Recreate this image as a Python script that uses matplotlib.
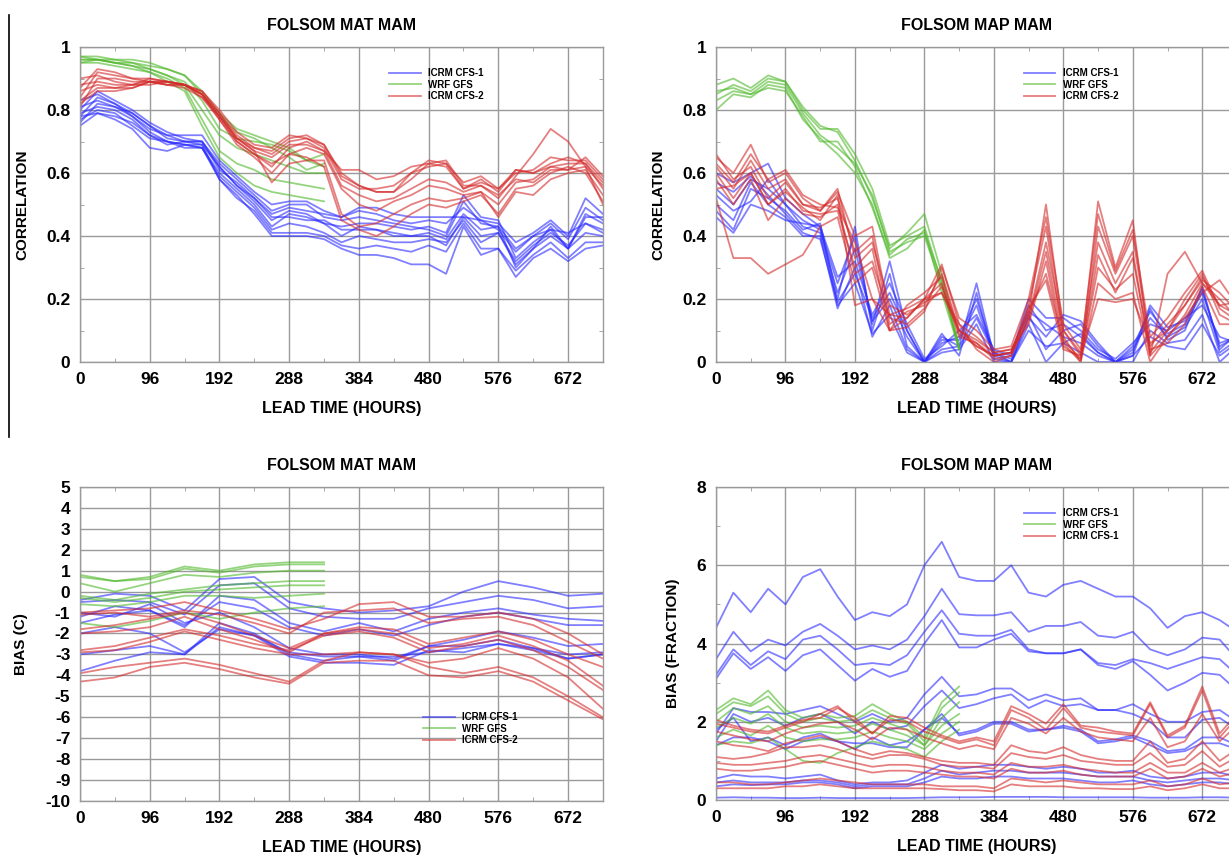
import matplotlib.pyplot as plt
from matplotlib.lines import Line2D
from matplotlib.ticker import MultipleLocator, FormatStrFormatter
import numpy as np

plt.rcParams['font.family'] = ['Liberation Sans', 'DejaVu Sans']

# lead times (hours)
hours_24 = np.arange(0, 721, 24)
hours_48 = np.arange(0, 721, 48)
wrf_24 = np.arange(0, 337, 24)
wrf_48 = np.arange(0, 337, 48)

# ---- MAT correlation ----
mat_corr_cfs1 = [
    [0.80,0.86,0.83,0.80,0.76,0.73,0.71,0.70,0.63,0.58,0.53,0.48,0.50,0.50,0.46,0.45,0.46,0.45,0.44,0.43,0.42,0.40,0.51,0.44,0.43,0.36,0.40,0.44,0.39,0.49,0.45],
    [0.78,0.84,0.82,0.79,0.75,0.72,0.70,0.69,0.62,0.56,0.51,0.45,0.48,0.47,0.44,0.43,0.44,0.44,0.43,0.42,0.43,0.41,0.53,0.46,0.45,0.33,0.38,0.42,0.36,0.47,0.44],
    [0.76,0.82,0.81,0.78,0.73,0.70,0.69,0.68,0.60,0.55,0.50,0.43,0.47,0.46,0.44,0.40,0.43,0.42,0.41,0.40,0.41,0.39,0.47,0.42,0.43,0.30,0.36,0.43,0.36,0.46,0.46],
    [0.79,0.81,0.80,0.77,0.72,0.69,0.70,0.70,0.61,0.57,0.52,0.47,0.49,0.48,0.47,0.46,0.49,0.49,0.47,0.46,0.46,0.46,0.46,0.45,0.42,0.35,0.40,0.42,0.41,0.44,0.41],
    [0.83,0.85,0.82,0.78,0.74,0.72,0.72,0.72,0.64,0.59,0.54,0.50,0.51,0.51,0.48,0.46,0.48,0.47,0.45,0.44,0.45,0.44,0.49,0.45,0.44,0.38,0.41,0.45,0.40,0.52,0.47],
    [0.75,0.79,0.78,0.76,0.72,0.70,0.68,0.68,0.59,0.54,0.49,0.42,0.44,0.43,0.41,0.38,0.40,0.39,0.38,0.38,0.39,0.38,0.45,0.38,0.41,0.31,0.36,0.40,0.36,0.41,0.40],
    [0.77,0.80,0.79,0.75,0.71,0.70,0.69,0.68,0.58,0.52,0.48,0.41,0.41,0.41,0.40,0.37,0.36,0.37,0.36,0.35,0.37,0.35,0.44,0.36,0.36,0.29,0.34,0.38,0.33,0.38,0.38],
    [0.78,0.79,0.77,0.74,0.68,0.67,0.69,0.69,0.58,0.53,0.47,0.40,0.40,0.40,0.39,0.36,0.34,0.34,0.33,0.31,0.31,0.28,0.43,0.34,0.36,0.27,0.33,0.36,0.32,0.36,0.37],
    [0.81,0.83,0.81,0.79,0.75,0.71,0.70,0.70,0.62,0.56,0.52,0.46,0.46,0.45,0.45,0.42,0.42,0.42,0.40,0.40,0.40,0.37,0.46,0.40,0.41,0.32,0.37,0.41,0.37,0.44,0.42],
]
mat_corr_wrf = [
    [0.97,0.97,0.96,0.96,0.95,0.93,0.91,0.85,0.78,0.73,0.71,0.68,0.65,0.61,0.63],
    [0.96,0.96,0.96,0.95,0.94,0.93,0.91,0.86,0.79,0.74,0.72,0.70,0.68,0.64,0.66],
    [0.96,0.96,0.95,0.95,0.93,0.91,0.88,0.80,0.72,0.68,0.66,0.64,0.62,0.60,0.60],
    [0.95,0.96,0.95,0.94,0.92,0.90,0.87,0.77,0.67,0.63,0.61,0.58,0.57,0.56,0.55],
    [0.95,0.95,0.94,0.93,0.92,0.89,0.86,0.75,0.65,0.60,0.56,0.54,0.53,0.52,0.51],
    [0.97,0.96,0.95,0.94,0.93,0.91,0.89,0.83,0.74,0.71,0.70,0.69,0.67,0.64,0.62],
]
mat_corr_cfs2 = [
    [0.81,0.90,0.90,0.89,0.89,0.89,0.88,0.85,0.78,0.71,0.68,0.67,0.71,0.72,0.69,0.60,0.56,0.54,0.54,0.58,0.63,0.62,0.55,0.58,0.54,0.61,0.60,0.62,0.63,0.63,0.55],
    [0.84,0.92,0.91,0.90,0.90,0.89,0.88,0.86,0.79,0.72,0.68,0.66,0.70,0.71,0.68,0.58,0.55,0.55,0.56,0.60,0.64,0.63,0.57,0.59,0.55,0.60,0.61,0.65,0.64,0.64,0.58],
    [0.87,0.93,0.92,0.90,0.89,0.88,0.88,0.84,0.78,0.70,0.66,0.62,0.68,0.70,0.67,0.61,0.61,0.58,0.59,0.62,0.63,0.64,0.56,0.56,0.52,0.59,0.66,0.74,0.70,0.62,0.56],
    [0.90,0.91,0.89,0.88,0.90,0.89,0.88,0.85,0.77,0.69,0.65,0.60,0.66,0.68,0.66,0.55,0.50,0.48,0.51,0.53,0.56,0.55,0.53,0.54,0.50,0.57,0.58,0.62,0.61,0.65,0.59],
    [0.88,0.89,0.88,0.88,0.88,0.89,0.88,0.85,0.79,0.71,0.67,0.57,0.63,0.64,0.64,0.47,0.43,0.44,0.47,0.50,0.52,0.51,0.52,0.54,0.46,0.54,0.53,0.58,0.60,0.61,0.53],
    [0.86,0.88,0.87,0.87,0.89,0.88,0.87,0.84,0.77,0.70,0.66,0.63,0.66,0.65,0.62,0.45,0.42,0.40,0.43,0.47,0.50,0.49,0.51,0.53,0.47,0.55,0.56,0.60,0.62,0.60,0.51],
    [0.83,0.87,0.87,0.88,0.89,0.89,0.88,0.86,0.80,0.73,0.69,0.68,0.72,0.71,0.69,0.59,0.56,0.54,0.54,0.60,0.62,0.63,0.55,0.57,0.55,0.61,0.60,0.63,0.65,0.63,0.57],
    [0.82,0.86,0.86,0.87,0.89,0.88,0.88,0.85,0.78,0.71,0.67,0.65,0.69,0.69,0.67,0.56,0.53,0.51,0.52,0.55,0.58,0.57,0.54,0.56,0.53,0.58,0.57,0.61,0.61,0.62,0.50],
]

# ---- MAP correlation ----
map_corr_cfs1 = [
    [0.55,0.50,0.58,0.55,0.50,0.45,0.42,0.25,0.40,0.12,0.32,0.10,0.00,0.06,0.08,0.20,0.03,0.01,0.18,0.10,0.12,0.08,0.03,0.00,0.05,0.16,0.09,0.12,0.22,0.06,0.08],
    [0.48,0.42,0.55,0.52,0.48,0.42,0.44,0.20,0.43,0.10,0.28,0.05,0.00,0.08,0.05,0.25,0.02,0.00,0.15,0.04,0.10,0.12,0.05,0.00,0.02,0.17,0.07,0.10,0.24,0.04,0.09],
    [0.60,0.57,0.60,0.63,0.52,0.47,0.43,0.27,0.32,0.15,0.25,0.12,0.01,0.05,0.10,0.15,0.04,0.02,0.20,0.14,0.14,0.10,0.04,0.01,0.06,0.12,0.10,0.14,0.18,0.08,0.06],
    [0.50,0.45,0.57,0.50,0.46,0.40,0.40,0.17,0.30,0.08,0.18,0.04,0.00,0.03,0.04,0.12,0.00,0.00,0.12,0.00,0.06,0.03,0.00,0.00,0.00,0.10,0.06,0.07,0.15,0.00,0.05],
    [0.53,0.48,0.51,0.58,0.50,0.43,0.41,0.22,0.36,0.13,0.20,0.08,0.00,0.07,0.07,0.18,0.02,0.03,0.16,0.12,0.08,0.06,0.02,0.00,0.04,0.14,0.08,0.11,0.20,0.03,0.07],
    [0.57,0.54,0.59,0.53,0.47,0.41,0.39,0.19,0.28,0.14,0.22,0.10,0.00,0.09,0.02,0.22,0.01,0.00,0.14,0.08,0.15,0.13,0.06,0.00,0.03,0.18,0.11,0.13,0.23,0.05,0.08],
    [0.46,0.41,0.50,0.48,0.45,0.44,0.43,0.18,0.25,0.09,0.15,0.03,0.00,0.04,0.05,0.14,0.03,0.00,0.10,0.05,0.06,0.09,0.03,0.00,0.02,0.08,0.05,0.04,0.12,0.02,0.06],
]
map_corr_wrf = [
    [0.85,0.88,0.86,0.90,0.89,0.80,0.74,0.74,0.66,0.55,0.37,0.40,0.43,0.25,0.04],
    [0.83,0.86,0.85,0.89,0.88,0.79,0.72,0.68,0.63,0.53,0.35,0.38,0.40,0.24,0.05],
    [0.80,0.85,0.84,0.88,0.87,0.77,0.71,0.66,0.60,0.50,0.33,0.36,0.42,0.22,0.04],
    [0.88,0.90,0.87,0.91,0.89,0.81,0.75,0.73,0.64,0.52,0.36,0.41,0.47,0.28,0.05],
    [0.86,0.87,0.85,0.87,0.86,0.78,0.70,0.70,0.62,0.49,0.34,0.39,0.41,0.26,0.04],
]
map_corr_cfs2 = [
    [0.65,0.60,0.69,0.57,0.60,0.52,0.48,0.54,0.40,0.43,0.15,0.14,0.20,0.31,0.12,0.08,0.03,0.04,0.15,0.50,0.10,0.02,0.51,0.30,0.45,0.03,0.10,0.20,0.28,0.15,0.12],
    [0.62,0.55,0.64,0.55,0.58,0.50,0.49,0.52,0.35,0.40,0.12,0.16,0.18,0.28,0.10,0.05,0.02,0.03,0.18,0.43,0.08,0.00,0.43,0.28,0.40,0.05,0.12,0.18,0.27,0.18,0.15],
    [0.60,0.52,0.60,0.50,0.55,0.48,0.47,0.48,0.30,0.36,0.10,0.14,0.20,0.25,0.08,0.06,0.01,0.02,0.14,0.38,0.10,0.03,0.38,0.25,0.35,0.02,0.08,0.15,0.25,0.20,0.14],
    [0.58,0.50,0.58,0.45,0.52,0.47,0.46,0.50,0.28,0.32,0.14,0.12,0.17,0.24,0.10,0.07,0.03,0.04,0.12,0.32,0.05,0.01,0.34,0.22,0.33,0.04,0.06,0.12,0.24,0.12,0.12],
    [0.66,0.58,0.62,0.52,0.57,0.50,0.48,0.55,0.33,0.38,0.18,0.15,0.19,0.22,0.12,0.04,0.00,0.02,0.16,0.28,0.06,0.00,0.25,0.20,0.22,0.00,0.08,0.14,0.22,0.26,0.18],
    [0.52,0.33,0.33,0.28,0.31,0.34,0.43,0.46,0.25,0.30,0.10,0.18,0.22,0.27,0.09,0.05,0.02,0.03,0.17,0.26,0.04,0.02,0.20,0.19,0.20,0.06,0.10,0.18,0.26,0.22,0.16],
    [0.63,0.57,0.66,0.58,0.61,0.53,0.50,0.49,0.38,0.20,0.10,0.11,0.16,0.30,0.14,0.10,0.04,0.05,0.20,0.46,0.12,0.04,0.47,0.29,0.42,0.08,0.14,0.22,0.29,0.17,0.13],
    [0.55,0.56,0.60,0.50,0.54,0.49,0.45,0.53,0.18,0.20,0.15,0.17,0.20,0.22,0.10,0.06,0.02,0.03,0.13,0.35,0.07,0.01,0.30,0.23,0.28,0.02,0.28,0.35,0.25,0.18,0.19],
]

# ---- MAT bias (48 h steps) ----
mat_bias_cfs1 = [
    [-0.4,-0.1,-0.2,-0.9,0.6,0.7,-0.5,-0.8,-1.0,-0.9,-0.7,0.0,0.5,0.2,-0.2,-0.1],
    [-0.5,-0.4,-0.5,-1.1,0.3,0.4,-0.8,-1.2,-1.3,-1.3,-0.8,-0.5,-0.2,-0.4,-0.8,-0.7],
    [-1.2,-0.7,-0.9,-1.7,-0.2,-0.4,-1.5,-1.9,-1.5,-1.9,-1.3,-1.0,-0.8,-1.1,-1.3,-1.4],
    [-1.5,-1.1,-0.9,-1.6,-0.5,-0.8,-1.7,-2.1,-1.8,-2.1,-1.6,-1.2,-1.0,-1.3,-1.6,-1.6],
    [-1.0,-1.2,-0.6,-1.5,-1.0,-1.7,-2.7,-3.0,-3.0,-3.2,-2.6,-2.3,-1.9,-2.2,-2.6,-2.5],
    [-2.0,-1.7,-2.0,-2.9,-1.8,-2.1,-2.9,-3.1,-3.1,-3.3,-2.6,-2.6,-2.3,-2.7,-3.0,-2.9],
    [-3.0,-2.8,-2.6,-3.0,-1.5,-2.0,-3.0,-3.3,-3.1,-3.1,-2.9,-2.7,-2.5,-2.7,-3.2,-3.0],
    [-3.8,-3.3,-2.9,-3.0,-1.7,-2.1,-3.1,-3.4,-3.4,-3.5,-2.8,-2.9,-2.5,-2.8,-3.2,-3.0],
]
mat_bias_wrf = [
    [0.8,0.5,0.7,1.2,1.0,1.3,1.4,1.4],
    [0.7,0.5,0.6,1.1,0.9,1.2,1.3,1.3],
    [0.4,0.0,0.4,0.8,0.7,0.9,1.0,1.0],
    [-0.2,-0.4,-0.1,0.1,0.3,0.4,0.5,0.5],
    [-0.3,-0.5,-0.3,0.0,0.1,0.2,0.3,0.3],
    [-0.6,-0.7,-0.5,-0.2,-0.2,-0.3,-0.2,-0.1],
    [-1.5,-1.7,-1.4,-1.0,-1.3,-1.0,-0.8,-0.7],
]
mat_bias_cfs2 = [
    [-1.0,-0.9,-0.8,-0.5,-0.9,-1.3,-1.8,-1.3,-0.6,-0.5,-1.2,-1.2,-1.0,-1.3,-2.0,-3.0],
    [-1.1,-1.0,-1.2,-0.9,-1.1,-1.5,-2.0,-1.0,-0.9,-0.8,-1.5,-1.3,-1.2,-1.6,-2.4,-3.2],
    [-1.8,-1.6,-1.3,-1.0,-1.5,-2.1,-2.7,-2.0,-1.7,-1.8,-2.5,-2.2,-1.9,-2.3,-3.0,-3.6],
    [-2.0,-1.9,-1.7,-1.2,-1.8,-2.3,-2.9,-2.0,-1.8,-2.0,-2.7,-2.5,-2.1,-2.6,-3.3,-4.5],
    [-2.8,-2.6,-2.2,-1.8,-2.1,-2.5,-2.8,-2.1,-1.9,-2.2,-2.9,-2.6,-2.3,-2.8,-3.6,-4.7],
    [-2.9,-2.8,-2.4,-1.9,-2.3,-2.7,-3.0,-3.0,-2.9,-3.0,-3.4,-3.2,-2.7,-3.2,-4.1,-5.6],
    [-3.9,-3.6,-3.4,-3.2,-3.5,-3.9,-4.3,-3.3,-2.9,-3.0,-3.6,-3.9,-3.6,-4.1,-5.0,-6.0],
    [-4.3,-4.1,-3.6,-3.4,-3.7,-4.1,-4.4,-3.4,-3.3,-3.3,-4.0,-4.1,-3.8,-4.3,-5.2,-6.1],
]

# ---- MAP bias (fraction) ----
map_bias_cfs1 = [
    [4.4,5.3,4.8,5.4,5.0,5.7,5.9,5.2,4.6,4.8,4.7,5.0,6.0,6.6,5.7,5.6,5.6,6.0,5.3,5.2,5.5,5.6,5.4,5.2,5.2,4.9,4.4,4.7,4.8,4.6,4.3],
    [3.6,4.3,3.8,4.1,3.95,4.3,4.5,4.2,3.85,3.95,3.85,4.1,4.7,5.4,4.75,4.72,4.72,4.8,4.3,4.45,4.45,4.55,4.2,4.15,4.3,3.85,3.7,3.85,4.15,4.1,3.6],
    [3.2,3.85,3.45,3.8,3.6,4.1,4.2,3.85,3.45,3.5,3.45,3.7,4.3,4.85,4.25,4.2,4.2,4.35,3.85,3.75,3.75,3.85,3.5,3.45,3.6,3.5,3.35,3.5,3.65,3.6,3.2],
    [3.1,3.75,3.35,3.65,3.3,3.7,3.85,3.45,3.05,3.35,3.15,3.3,4.0,4.6,3.9,3.9,4.1,4.25,3.8,3.75,3.75,3.85,3.45,3.35,3.55,3.2,2.8,3.0,3.25,3.2,2.8],
    [1.7,2.35,2.25,2.25,2.2,2.3,2.4,2.2,2.0,2.2,2.0,2.1,2.7,3.15,2.65,2.7,2.85,2.85,2.55,2.7,2.55,2.6,2.3,2.3,2.45,2.2,2.0,2.0,2.25,2.3,2.0],
    [1.5,2.2,2.0,2.1,1.9,2.1,2.2,2.0,1.7,2.0,1.8,1.9,2.4,2.8,2.35,2.45,2.6,2.7,2.35,2.55,2.4,2.45,2.3,2.3,2.2,2.0,1.6,1.6,2.05,2.1,1.8],
    [1.4,1.6,1.6,1.5,1.3,1.5,1.6,1.5,1.3,1.6,1.4,1.5,1.8,2.1,1.7,1.8,2.0,2.0,1.8,1.8,1.9,1.8,1.5,1.55,1.65,1.5,1.25,1.3,1.6,1.6,1.4],
    [1.8,2.1,1.5,1.6,1.4,1.6,1.7,1.5,1.45,1.45,1.35,1.35,1.8,2.2,1.65,1.75,1.95,1.95,1.75,1.8,1.85,1.75,1.45,1.5,1.6,1.4,1.2,1.25,1.45,1.45,1.3],
    [0.55,0.65,0.6,0.6,0.55,0.6,0.65,0.5,0.4,0.45,0.45,0.5,0.7,0.9,0.8,0.85,0.9,0.9,0.85,0.8,0.85,0.8,0.7,0.7,0.75,0.6,0.55,0.6,0.7,0.7,0.6],
    [0.45,0.5,0.45,0.45,0.45,0.5,0.5,0.45,0.35,0.4,0.4,0.4,0.55,0.75,0.65,0.7,0.75,0.75,0.7,0.7,0.7,0.65,0.6,0.6,0.6,0.5,0.45,0.5,0.55,0.55,0.5],
    [0.35,0.4,0.38,0.4,0.4,0.45,0.45,0.4,0.3,0.35,0.35,0.35,0.45,0.6,0.55,0.55,0.6,0.6,0.55,0.55,0.55,0.5,0.45,0.45,0.5,0.4,0.35,0.4,0.45,0.45,0.4],
    [0.06,0.07,0.06,0.06,0.05,0.05,0.06,0.05,0.05,0.05,0.05,0.05,0.06,0.07,0.07,0.07,0.08,0.08,0.08,0.08,0.07,0.07,0.07,0.07,0.07,0.06,0.06,0.06,0.07,0.07,0.06],
]
map_bias_wrf = [
    [2.3,2.6,2.45,2.8,2.3,2.1,2.2,2.1,2.15,2.45,2.2,2.0,1.6,2.5,2.9],
    [2.2,2.5,2.4,2.65,2.2,2.0,2.1,2.0,2.05,2.3,2.1,1.95,1.5,2.35,2.75],
    [2.0,2.35,2.2,2.4,2.0,1.85,1.9,1.85,1.9,2.1,1.95,1.8,1.4,2.1,2.5],
    [1.85,2.1,1.95,2.2,1.85,1.7,1.75,1.7,1.75,1.95,1.8,1.65,1.4,1.9,2.2],
    [1.6,1.8,1.65,1.9,1.6,1.5,1.55,1.55,1.6,1.75,1.6,1.5,1.3,1.7,2.0],
    [1.4,1.5,1.45,1.6,1.3,1.0,0.95,1.2,1.35,1.5,1.4,1.3,1.1,1.5,1.8],
]
map_bias_cfs2 = [
    [2.05,1.9,1.8,1.75,1.9,2.05,2.1,2.35,2.1,1.7,2.15,2.1,1.85,1.65,1.5,1.6,1.5,2.4,2.2,1.95,2.45,1.9,1.85,1.75,1.7,2.5,1.65,1.9,2.9,1.7,2.2],
    [1.95,1.85,1.75,1.7,1.85,2.0,2.2,2.4,2.0,1.7,2.05,2.0,1.75,1.6,1.45,1.55,1.4,2.3,2.1,1.8,2.35,1.85,1.75,1.7,1.65,2.45,1.6,1.85,2.8,1.6,2.1],
    [1.75,1.65,1.55,1.5,1.7,1.85,1.95,2.0,1.8,1.55,1.85,1.8,1.6,1.45,1.3,1.4,1.3,2.1,1.95,1.7,2.1,1.75,1.6,1.55,1.5,2.1,1.35,1.5,2.2,1.5,1.9],
    [1.5,1.4,1.35,1.25,1.45,1.55,1.65,1.5,1.3,1.15,1.25,1.2,1.1,1.0,0.95,0.95,0.9,1.4,1.25,1.2,1.35,1.15,1.05,1.0,1.0,1.5,0.95,1.05,1.5,1.0,1.3],
    [1.1,1.05,1.1,1.2,1.35,1.35,1.4,1.3,1.15,1.05,1.15,1.15,1.05,0.9,0.85,0.85,0.8,1.2,1.1,1.05,1.15,1.0,0.95,0.9,0.9,1.2,0.85,0.9,1.25,0.85,1.1],
    [0.95,0.9,0.9,0.95,1.0,1.1,1.15,1.05,0.95,0.85,0.9,0.9,0.85,0.75,0.7,0.7,0.65,0.95,0.85,0.85,0.9,0.8,0.75,0.7,0.7,0.95,0.7,0.7,0.95,0.7,0.85],
    [0.8,0.75,0.75,0.8,0.85,0.95,1.0,0.9,0.8,0.7,0.75,0.75,0.7,0.65,0.6,0.6,0.55,0.8,0.7,0.7,0.75,0.65,0.6,0.6,0.6,0.8,0.55,0.6,0.8,0.6,0.7],
    [0.45,0.45,0.4,0.4,0.45,0.5,0.55,0.5,0.45,0.4,0.4,0.4,0.4,0.35,0.35,0.35,0.3,0.55,0.5,0.45,0.5,0.45,0.4,0.4,0.4,0.5,0.35,0.4,0.55,0.4,0.45],
    [0.3,0.3,0.3,0.3,0.35,0.35,0.4,0.35,0.3,0.3,0.3,0.3,0.3,0.28,0.25,0.25,0.22,0.4,0.35,0.35,0.35,0.3,0.3,0.28,0.28,0.35,0.25,0.3,0.4,0.3,0.3],
]

blue = '#2a2aff'
green = '#4fb82a'
red = '#d42a2a'
grid_col = '#9a9a9a'


def draw_panel(ax, t_main, t_wrf, cfs1, wrf, cfs2, ylim, ymajor, yminor, ylabel, title, labels, legend_pos):
    ax.set_xlim(0, 720)
    ax.set_ylim(*ylim)
    ax.xaxis.set_major_locator(MultipleLocator(96))
    ax.xaxis.set_minor_locator(MultipleLocator(48))
    ax.yaxis.set_major_locator(MultipleLocator(ymajor))
    ax.yaxis.set_major_formatter(FormatStrFormatter('%g'))
    if yminor:
        ax.yaxis.set_minor_locator(MultipleLocator(yminor))
    ax.grid(True, which='major', color=grid_col, lw=1.0)
    ax.set_axisbelow(True)
    for s in ax.spines.values():
        s.set_color(grid_col)
        s.set_linewidth(1.0)
    ax.tick_params(which='both', direction='in', top=True, right=True, color=grid_col)
    ax.tick_params(which='major', length=0, labelsize=12.5, pad=7)
    ax.tick_params(which='minor', length=3)
    for lab in ax.get_xticklabels() + ax.get_yticklabels():
        lab.set_fontweight('bold')

    for y in cfs1:
        ax.plot(t_main, y, color=blue, lw=1.3, alpha=0.6)
    for y in wrf:
        ax.plot(t_wrf, y, color=green, lw=1.3, alpha=0.6)
    for y in cfs2:
        ax.plot(t_main, y, color=red, lw=1.3, alpha=0.6)

    ax.set_title(title, fontsize=11.5, fontweight='bold', pad=12)
    ax.set_xlabel('LEAD TIME (HOURS)', fontsize=11.5, fontweight='bold', labelpad=10)
    ax.set_ylabel(ylabel, fontsize=11, fontweight='bold', labelpad=12)

    handles = [Line2D([], [], color=c, lw=1.3, alpha=0.6) for c in (blue, green, red)]
    ax.legend(handles, labels, loc='upper left', bbox_to_anchor=legend_pos,
              frameon=False, prop={'size': 7, 'weight': 'bold'},
              handlelength=3.2, handletextpad=0.8, labelspacing=0.15)


fig = plt.figure(figsize=(12.29, 8.55), dpi=100)

ax1 = fig.add_axes([0.0651, 0.5766, 0.4255, 0.3684])
ax2 = fig.add_axes([0.5826, 0.5766, 0.4239, 0.3684])
ax3 = fig.add_axes([0.0651, 0.0632, 0.4255, 0.3673])
ax4 = fig.add_axes([0.5826, 0.0643, 0.4239, 0.3661])

draw_panel(ax1, hours_24, wrf_24, mat_corr_cfs1, mat_corr_wrf, mat_corr_cfs2,
           (0, 1), 0.2, 0.1, 'CORRELATION', 'FOLSOM MAT MAM',
           ['ICRM CFS-1', 'WRF GFS', 'ICRM CFS-2'], (0.575, 0.96))
draw_panel(ax2, hours_24, wrf_24, map_corr_cfs1, map_corr_wrf, map_corr_cfs2,
           (0, 1), 0.2, 0.1, 'CORRELATION', 'FOLSOM MAP MAM',
           ['ICRM CFS-1', 'WRF GFS', 'ICRM CFS-2'], (0.575, 0.96))
draw_panel(ax3, hours_48, wrf_48, mat_bias_cfs1, mat_bias_wrf, mat_bias_cfs2,
           (-10, 5), 1, None, 'BIAS (C)', 'FOLSOM MAT MAM',
           ['ICRM CFS-1', 'WRF GFS', 'ICRM CFS-2'], (0.64, 0.31))
draw_panel(ax4, hours_24, wrf_24, map_bias_cfs1, map_bias_wrf, map_bias_cfs2,
           (0, 8), 2, 1, 'BIAS (FRACTION)', 'FOLSOM MAP MAM',
           ['ICRM CFS-1', 'WRF GFS', 'ICRM CFS-1'], (0.575, 0.96))

# thin rule along the left edge of the upper row
fig.add_artist(Line2D([9 / 1229, 9 / 1229], [1 - 15 / 855, 1 - 437 / 855], color='black', lw=1.2))

fig.savefig('out.png', dpi=100)
